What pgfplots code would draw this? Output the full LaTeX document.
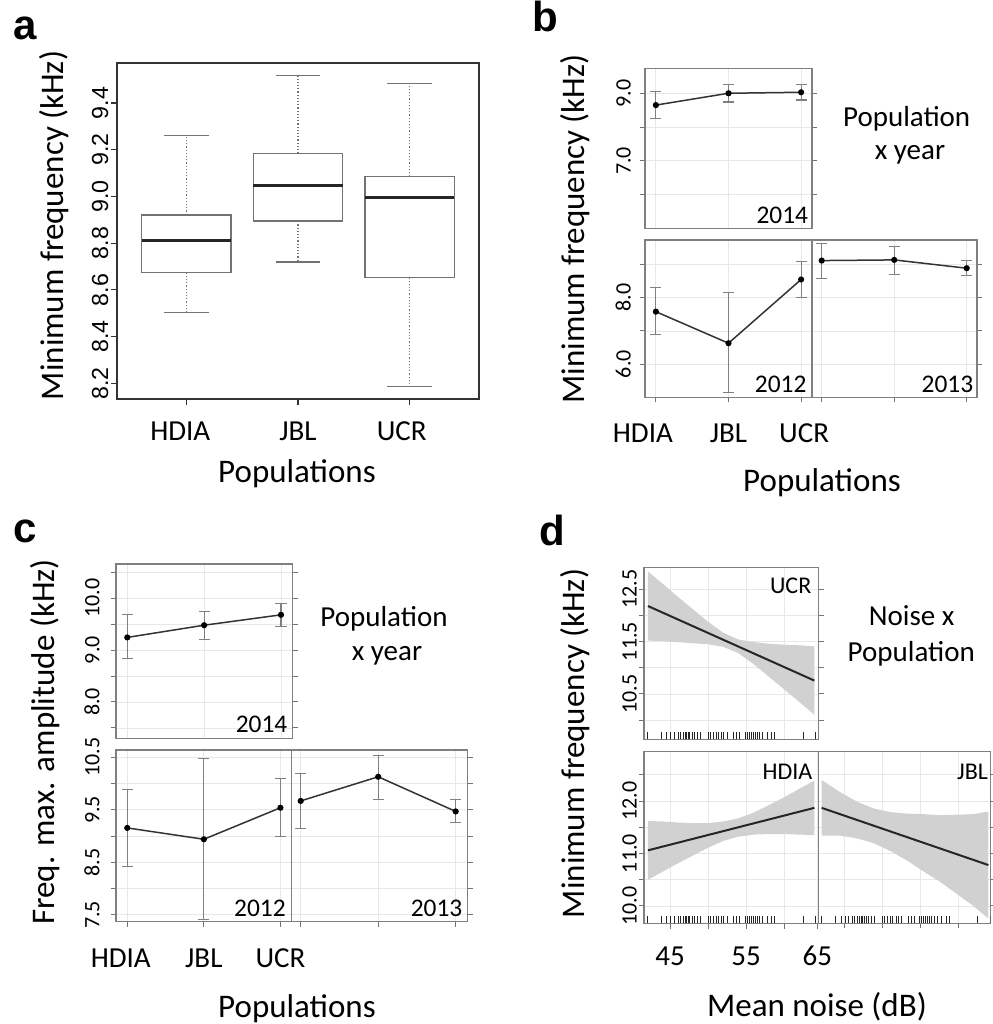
\documentclass[border=0pt]{standalone}
\usepackage{fontspec}
\setmainfont{Carlito}
\newfontfamily\arial{Liberation Sans}
\usepackage{pgfplots}
\usepackage{pgfplotstable}
\pgfplotsset{compat=1.18}
\usepgfplotslibrary{statistics}

\newcommand\fA{\fontsize{16.5}{18}\selectfont}
\newcommand\fT{\fontsize{14.5}{16}\selectfont}
\newcommand\fY{\fontsize{11}{12}\selectfont}
\newcommand\fYA{\arial\fontsize{11.6}{12}\selectfont}
\newcommand\fYr{\fontsize{12.7}{14}\selectfont}
\newcommand\fP{\fontsize{12}{13}\selectfont}
\newcommand\fL{\arial\bfseries\fontsize{21}{22}\selectfont}

% rug of mean noise values (dB); t/b = top of rug tick in upper/lower panels
\pgfplotstableread{
x t b
42.0 9.77 9.80
43.9 9.77 9.80
44.6 9.77 9.80
45.1 9.77 9.80
45.6 9.77 9.80
46.1 9.77 9.80
46.4 9.77 9.80
46.8 9.77 9.80
47.0 9.77 9.80
47.2 9.77 9.80
47.4 9.77 9.80
47.6 9.77 9.80
47.9 9.77 9.80
48.2 9.77 9.80
48.6 9.77 9.80
49.0 9.77 9.80
50.0 9.77 9.80
50.3 9.77 9.80
50.7 9.77 9.80
51.1 9.77 9.80
51.4 9.77 9.80
51.8 9.77 9.80
52.1 9.77 9.80
52.5 9.77 9.80
53.4 9.77 9.80
53.8 9.77 9.80
54.2 9.77 9.80
54.9 9.77 9.80
55.2 9.77 9.80
55.4 9.77 9.80
55.7 9.77 9.80
56.0 9.77 9.80
56.2 9.77 9.80
56.5 9.77 9.80
56.8 9.77 9.80
57.2 9.77 9.80
57.8 9.77 9.80
58.4 9.77 9.80
58.8 9.77 9.80
62.5 9.77 9.80
64.2 9.77 9.80
}\rugdata

\pgfplotsset{
  lat/.style={
    scale only axis, anchor=south west,
    axis line style={black!50, line width=0.55pt},
    tick style={black!55, line width=0.5pt},
    tick align=outside, major tick length=2.6pt,
    grid=major, grid style={black!9, line width=0.4pt},
    xticklabel style={anchor=base, font=\fT},
  },
  ylab/.style={yticklabel style={xshift=#1, rotate=90, anchor=base, font=\fY}},
  xlab/.style={xticklabel style={anchor=base, yshift=#1}},
  lser/.style={black!80, line width=0.75pt, mark=*, mark size=1.15pt,
    mark options={fill=black, draw=black, solid},
    error bars/y dir=both, error bars/y explicit,
    error bars/error mark=-,
    error bars/error bar style={black!50, line width=0.55pt},
    error bars/error mark options={rotate=90, black!50, mark size=2.8pt, line width=0.55pt}},
  rug/.style={ycomb, black!85, line width=0.5pt},
}

\begin{document}
\begin{tikzpicture}
\path[use as bounding box] (0,0) rectangle (496pt,512pt);

%================ panel a ================
\begin{axis}[
  at={(58.5pt,312.5pt)}, anchor=south west, scale only axis,
  width=181pt, height=168pt,
  xmin=0.38, xmax=3.62, ymin=8.133, ymax=9.571,
  axis line style={black!80, line width=0.9pt},
  tick style={black!80, line width=0.6pt},
  tick align=outside, major tick length=3pt,
  xtick pos=left, ytick pos=left,
  xtick={1,2,3}, xticklabels={\kern-6pt HDIA,JBL,\kern-8pt UCR},
  ytick={8.2,8.4,8.6,8.8,9.0,9.2,9.4},
  yticklabels={8.2,8.4,8.6,8.8,9.0,9.2,9.4},
  yticklabel style={xshift=-1.4pt, rotate=90, anchor=base, font=\fYA},
  xticklabel style={anchor=base, yshift=-18pt, font=\fT},
  boxplot/draw direction=y,
  boxplot/every median/.style={draw=black!85, line width=1.4pt},
  boxplot/draw/lower whisker/.code={%
    \draw[/pgfplots/boxplot/every whisker/.try, line width=0.6pt, dash pattern=on 0.6pt off 1pt]
      (boxplot box cs:\pgfplotsboxplotvalue{lower quartile},0.5) --
      (boxplot box cs:\pgfplotsboxplotvalue{lower whisker},0.5);
    \draw[/pgfplots/boxplot/every whisker/.try]
      (boxplot whisker cs:\pgfplotsboxplotvalue{lower whisker},0) --
      (boxplot whisker cs:\pgfplotsboxplotvalue{lower whisker},1);
  },
  boxplot/draw/upper whisker/.code={%
    \draw[/pgfplots/boxplot/every whisker/.try, line width=0.6pt, dash pattern=on 0.6pt off 1pt]
      (boxplot box cs:\pgfplotsboxplotvalue{upper quartile},0.5) --
      (boxplot box cs:\pgfplotsboxplotvalue{upper whisker},0.5);
    \draw[/pgfplots/boxplot/every whisker/.try]
      (boxplot whisker cs:\pgfplotsboxplotvalue{upper whisker},0) --
      (boxplot whisker cs:\pgfplotsboxplotvalue{upper whisker},1);
  },
]
\addplot[draw=black!55, line width=0.75pt, boxplot prepared={draw position=1, box extend=0.8, whisker extend=0.4,
  lower whisker=8.504, lower quartile=8.674, median=8.81, upper quartile=8.921, upper whisker=9.26}] coordinates {};
\addplot[draw=black!55, line width=0.75pt, boxplot prepared={draw position=2, box extend=0.8, whisker extend=0.4,
  lower whisker=8.72, lower quartile=8.894, median=9.047, upper quartile=9.184, upper whisker=9.518}] coordinates {};
\addplot[draw=black!55, line width=0.75pt, boxplot prepared={draw position=3, box extend=0.8, whisker extend=0.4,
  lower whisker=8.186, lower quartile=8.653, median=8.996, upper quartile=9.086, upper whisker=9.483}] coordinates {};
\end{axis}

%================ panel b ================
\begin{axis}[lat, ylab=-4.55pt, at={(322.5pt,397.85pt)}, width=83.5pt, height=80pt,
  xmin=0.85, xmax=3.15, ymin=5.0, ymax=9.74,
  xtick={1,2,3}, xticklabels={,,}, xtick style={draw=none},
  ytick={6,7,8,9}, yticklabels={,7.0,,9.0}, ytick pos=both, yticklabel pos=left]
\addplot[lser] coordinates {(1,8.65) += (0,0.40) -= (0,0.41) (2,9.00) += (0,0.25) -= (0,0.26) (3,9.03) += (0,0.23) -= (0,0.23)};
\node[anchor=base east, font=\fYr, inner sep=0pt, xshift=-1.8pt, yshift=2.6pt] at (rel axis cs:1,0) {2014};
\end{axis}
\begin{axis}[lat, ylab=-4.55pt, xlab=-20.25pt, at={(322.5pt,313.35pt)}, width=83.5pt, height=78.65pt,
  xmin=0.85, xmax=3.15, ymin=5.0, ymax=9.74,
  xtick={1,2,3}, xticklabels={\kern-13pt HDIA,JBL,\kern3pt UCR}, xtick pos=left,
  ytick={6,7,8,9}, yticklabels={6.0,,8.0,}, ytick pos=left]
\addplot[lser] coordinates {(1,7.58) += (0,0.73) -= (0,0.70) (2,6.63) += (0,1.53) -= (0,1.48) (3,8.55) += (0,0.53) -= (0,0.55)};
\node[anchor=base east, font=\fYr, inner sep=0pt, xshift=-2.6pt, yshift=2.3pt] at (rel axis cs:1,0) {2012};
\end{axis}
\begin{axis}[lat, at={(406pt,313.35pt)}, width=82.5pt, height=78.65pt,
  xmin=0.866, xmax=3.142, ymin=5.0, ymax=9.74,
  xtick={1,2,3}, xticklabels={,,}, xtick pos=left,
  ytick={6,7,8,9}, yticklabels={,,,}, ytick pos=right]
\addplot[lser] coordinates {(1,9.12) += (0,0.51) -= (0,0.54) (2,9.14) += (0,0.40) -= (0,0.44) (3,8.89) += (0,0.22) -= (0,0.22)};
\node[anchor=base east, font=\fYr, inner sep=0pt, xshift=-1.7pt, yshift=2.3pt] at (rel axis cs:1,0) {2013};
\end{axis}

%================ panel c ================
\begin{axis}[lat, ylab=-5.75pt, at={(58pt,142.85pt)}, width=88.15pt, height=87.15pt,
  xmin=0.853, xmax=3.147, ymin=7.30, ymax=10.66,
  xtick={1,2,3}, xticklabels={,,}, xtick style={draw=none},
  ytick={7.5,8,8.5,9,9.5,10,10.5}, yticklabels={,8.0,,9.0,,10.0,}, ytick pos=both, yticklabel pos=left]
\addplot[lser] coordinates {(1,9.245) += (0,0.435) -= (0,0.415) (2,9.48) += (0,0.27) -= (0,0.27) (3,9.68) += (0,0.22) -= (0,0.22)};
\node[anchor=base east, font=\fYr, inner sep=0pt, xshift=-2.3pt, yshift=2.8pt] at (rel axis cs:1,0) {2014};
\end{axis}
\begin{axis}[lat, ylab=-5.75pt, xlab=-20.05pt, at={(58pt,51.15pt)}, width=87.85pt, height=85.85pt,
  xmin=0.853, xmax=3.147, ymin=7.37, ymax=10.64,
  xtick={1,2,3}, xticklabels={\kern-6.5pt HDIA,JBL,UCR}, xtick pos=left,
  ytick={7.5,8,8.5,9,9.5,10,10.5}, yticklabels={7.5,,8.5,,9.5,,10.5}, ytick pos=left]
\addplot[lser] coordinates {(1,9.156) += (0,0.724) -= (0,0.736) (2,8.94) += (0,1.53) -= (0,1.53) (3,9.54) += (0,0.55) -= (0,0.54)};
\node[anchor=base east, font=\fYr, inner sep=0pt, xshift=-2.8pt, yshift=2.5pt] at (rel axis cs:1,0) {2012};
\end{axis}
\begin{axis}[lat, at={(145.85pt,51.15pt)}, width=87.8pt, height=85.85pt,
  xmin=0.884, xmax=3.15, ymin=7.37, ymax=10.64,
  xtick={1,2,3}, xticklabels={,,}, xtick pos=left,
  ytick={7.5,8,8.5,9,9.5,10,10.5}, yticklabels={,,,,,,}, ytick pos=right]
\addplot[lser] coordinates {(1,9.67) += (0,0.53) -= (0,0.53) (2,10.13) += (0,0.41) -= (0,0.43) (3,9.47) += (0,0.23) -= (0,0.21)};
\node[anchor=base east, font=\fYr, inner sep=0pt, xshift=-2.3pt, yshift=2.5pt] at (rel axis cs:1,0) {2013};
\end{axis}

%================ panel d ================
\begin{axis}[lat, ylab=-1.05pt, at={(322pt,142.35pt)}, width=87.15pt, height=86pt,
  xmin=41.58, xmax=64.51, ymin=9.634, ymax=12.92,
  xtick={45,50,55,60}, xticklabels={,,,}, xtick style={draw=none},
  ytick={10,10.5,11,11.5,12,12.5}, yticklabels={,10.5,,11.5,,12.5}, ytick pos=both, yticklabel pos=left]
\addplot[fill=black!18, draw=none] coordinates {
  (42.1,12.84)(44,12.61)(46,12.36)(48,12.12)(50,11.88)(52,11.67)(54,11.54)(56,11.49)(58,11.46)(60,11.44)(62,11.43)(64,11.41)
  (64,10.10)(62,10.35)(60,10.59)(58,10.83)(56,11.07)(54,11.28)(52,11.40)(50,11.45)(48,11.47)(46,11.49)(44,11.51)(42.1,11.52)} -- cycle;
\addplot[rug] table[x=x, y=t] {\rugdata};
\addplot[black!85, line width=1pt] coordinates {(42.1,12.18) (64,10.755)};
\node[anchor=base east, font=\fP, inner sep=0pt, xshift=-3.3pt, yshift=-13pt] at (rel axis cs:1,1) {UCR};
\end{axis}
\begin{axis}[lat, ylab=-1.05pt, xlab=-18.6pt, at={(322pt,50.35pt)}, width=87.15pt, height=85.8pt,
  xmin=41.58, xmax=64.51, ymin=9.67, ymax=12.94,
  xtick={45,50,55,60,64.38}, xticklabels={45,,55,,65}, xtick pos=left,
  ytick={10,10.5,11,11.5,12,12.5}, yticklabels={10.0,,11.0,,12.0,}, ytick pos=left]
\addplot[fill=black!18, draw=none] coordinates {
  (42.1,11.62)(44,11.61)(46,11.59)(48,11.58)(50,11.58)(52,11.61)(54,11.67)(56,11.78)(58,11.92)(60,12.07)(62,12.23)(64,12.39)
  (64,11.35)(62,11.36)(60,11.37)(58,11.37)(56,11.36)(54,11.32)(52,11.24)(50,11.11)(48,10.96)(46,10.81)(44,10.65)(42.1,10.50)} -- cycle;
\addplot[rug] table[x=x, y=b] {\rugdata};
\addplot[black!85, line width=1pt] coordinates {(42.1,11.06) (64,11.87)};
\node[anchor=base east, font=\fP, inner sep=0pt, xshift=-2.8pt, yshift=-14.1pt] at (rel axis cs:1,1) {HDIA};
\end{axis}
\begin{axis}[lat, at={(409.15pt,50.35pt)}, width=86pt, height=85.8pt,
  xmin=41.58, xmax=64.2, ymin=9.67, ymax=12.94,
  xtick={45,50,55,60}, xticklabels={,,,}, xtick pos=left,
  ytick={10,10.5,11,11.5,12,12.5}, yticklabels={,,,,,}, ytick pos=right]
\addplot[fill=black!18, draw=none] coordinates {
  (42.02,12.40)(44.44,12.17)(46.63,11.99)(48.82,11.86)(51.01,11.79)(53.21,11.76)(55.40,11.75)(57.59,11.73)(59.79,11.74)(61.98,11.75)(63.95,11.80)
  (63.95,9.76)(61.98,10.00)(59.79,10.23)(57.59,10.46)(55.40,10.66)(53.21,10.87)(51.01,11.05)(48.82,11.20)(46.63,11.29)(44.44,11.34)(42.02,11.34)} -- cycle;
\addplot[rug] table[x=x, y=b] {\rugdata};
\addplot[black!85, line width=1pt] coordinates {(42.02,11.87) (63.95,10.78)};
\node[anchor=base east, font=\fP, inner sep=0pt, xshift=-1pt, yshift=-14.1pt] at (rel axis cs:1,1) {JBL};
\end{axis}

%================ labels ================
\node[font=\fL, anchor=base west, inner sep=0pt] at (6.5pt,492pt) {a};
\node[font=\fL, anchor=base west, inner sep=0pt] at (266pt,496pt) {b};
\node[font=\fL, anchor=base west, inner sep=0pt] at (6.35pt,240.75pt) {c};
\node[font=\fL, anchor=base west, inner sep=0pt] at (269.5pt,239pt) {d};

\node[font=\fA, rotate=90, anchor=base, inner sep=0pt] at (31.5pt,399.25pt) {Minimum frequency (kHz)};
\node[font=\fA, anchor=base, inner sep=0pt] at (148.5pt,270.5pt) {Populations};
\node[font=\fA, rotate=90, anchor=base, inner sep=0pt] at (292pt,397.5pt) {Minimum frequency (kHz)};
\node[font=\fA, anchor=base, inner sep=0pt] at (411pt,266pt) {Populations};
\node[font=\fT, anchor=base, inner sep=0pt] at (453.35pt,448.5pt) {Population};
\node[font=\fT, anchor=base, inner sep=0pt] at (455pt,432.25pt) {x year};

\node[font=\fA, rotate=90, anchor=base, inner sep=0pt] at (27.5pt,141pt) {Freq. max. amplitude (kHz)};
\node[font=\fA, anchor=base, inner sep=0pt] at (148.5pt,3pt) {Populations};
\node[font=\fT, anchor=base, inner sep=0pt] at (192pt,198.5pt) {Population};
\node[font=\fT, anchor=base, inner sep=0pt] at (193.5pt,181.9pt) {x year};

\node[font=\fA, rotate=90, anchor=base, inner sep=0pt] at (292pt,140.25pt) {Minimum frequency (kHz)};
\node[font=\fA, anchor=base, inner sep=0pt] at (408.5pt,4pt) {Mean noise (dB)};
\node[font=\fT, anchor=base, inner sep=0pt] at (455.85pt,199.3pt) {Noise x};
\node[font=\fT, anchor=base, inner sep=0pt] at (455.65pt,181pt) {Population};
\end{tikzpicture}
\end{document}
